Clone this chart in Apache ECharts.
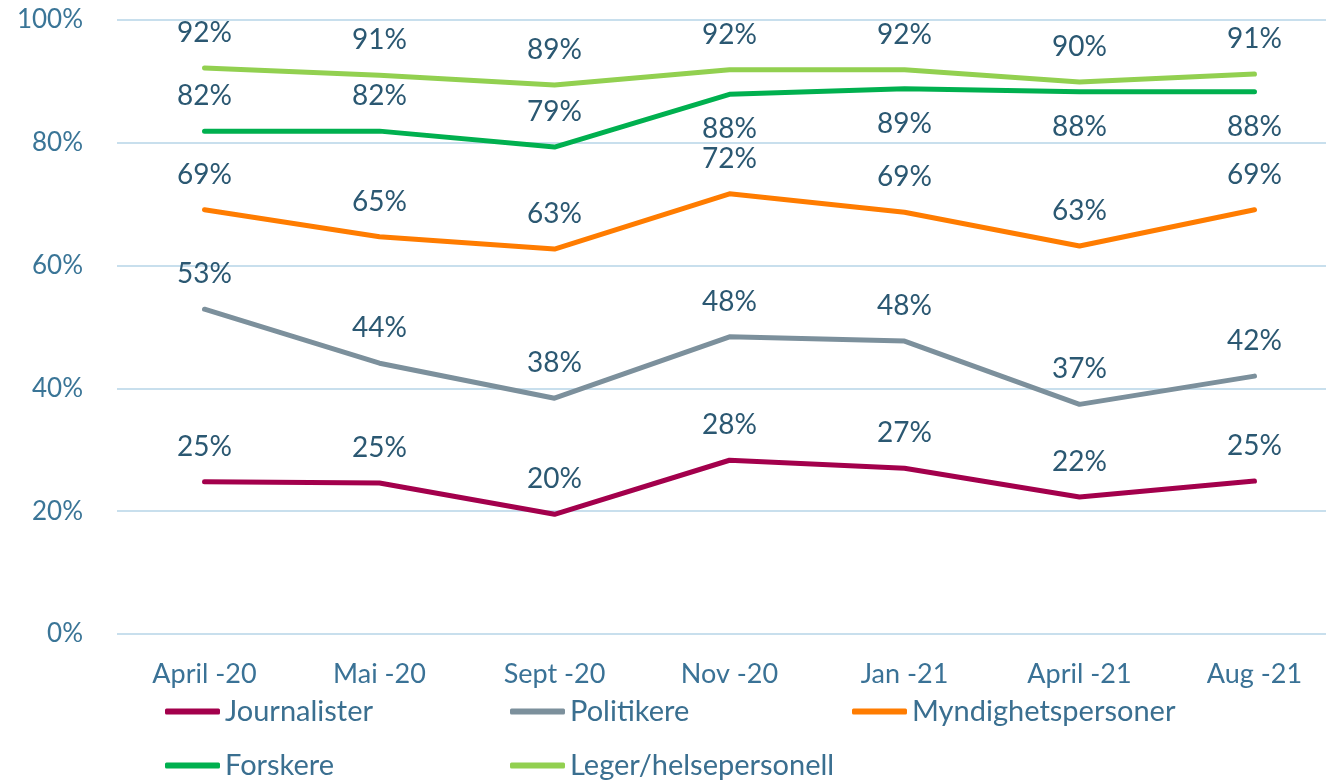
<!DOCTYPE html>
<html>
<head>
<meta charset="utf-8">
<script src="https://cdn.jsdelivr.net/npm/echarts@6/dist/echarts.min.js"></script>
<style>
	html, body { margin: 0; padding: 0; background: #fff; }
	#chart { width: 1326px; height: 784px; }
</style>
</head>
<body>
<div id="chart"></div>
<script>
var categories = ['April -20', 'Mai -20', 'Sept -20', 'Nov -20', 'Jan -21', 'April -21', 'Aug -21'];
var journalister = [24.8, 24.6, 19.5, 28.3, 27.0, 22.3, 24.9];
var politikere = [52.9, 44.1, 38.4, 48.4, 47.7, 37.4, 42.0];
var myndighetspersoner = [69.1, 64.7, 62.7, 71.7, 68.7, 63.2, 69.1];
var forskere = [81.9, 81.9, 79.3, 87.9, 88.8, 88.3, 88.3];
var leger = [92.2, 91.0, 89.4, 91.9, 91.9, 89.9, 91.2];
var yTicks = [0, 20, 40, 60, 80, 100];

var font = 'Lato';

function makeSeries(name, values, color, belowFrom) {
	var data = [];
	for (var i = 0; i < values.length; i++) {
		var below = belowFrom != null && i >= belowFrom;
		data.push({
			value: values[i],
			label: { position: below ? 'bottom' : 'top' }
		});
	}
	return {
		name: name,
		type: 'line',
		data: data,
		symbol: 'circle',
		symbolSize: 0,
		showSymbol: true,
		smooth: false,
		lineStyle: { width: 5, color: color, cap: 'round', join: 'round' },
		itemStyle: { color: color },
		label: {
			show: true,
			distance: 21,
			color: '#2b5872',
			fontFamily: font,
			fontSize: 28,
			formatter: function (p) { return Math.round(p.value) + '%'; }
		}
	};
}

function legendAt(name, left, top) {
	return {
		data: [name],
		left: left,
		top: top,
		icon: 'roundRect',
		itemWidth: 55,
		itemHeight: 6,
		padding: 0,
		textStyle: { color: '#3a6f90', fontFamily: font, fontSize: 29 }
	};
}

var chart = echarts.init(document.getElementById('chart'));
var option = {
	animation: false,
	grid: { left: 117, width: 1225, top: 20, bottom: 150, outerBoundsMode: 'none' },
	legend: [
		legendAt('Journalister', 165, 697),
		legendAt('Politikere', 510, 697),
		legendAt('Myndighetspersoner', 852, 697),
		legendAt('Forskere', 165, 751),
		legendAt('Leger/helsepersonell', 510, 751)
	],
	xAxis: {
		type: 'category',
		data: categories,
		boundaryGap: true,
		axisLine: { show: false },
		axisTick: { show: false },
		axisLabel: { color: '#3a7296', fontFamily: font, fontSize: 27, margin: 27 }
	},
	yAxis: {
		type: 'value',
		min: yTicks[0],
		max: yTicks[yTicks.length - 1],
		interval: 20,
		axisLine: { show: false },
		axisTick: { show: false },
		splitLine: { lineStyle: { color: '#c8dfed', width: 2 } },
		axisLabel: {
			color: '#3a7597',
			fontFamily: font,
			fontSize: 26,
			margin: 34,
			formatter: '{value}%'
		}
	},
	series: [
		makeSeries('Journalister', journalister, '#a3004c'),
		makeSeries('Politikere', politikere, '#7c909c'),
		makeSeries('Myndighetspersoner', myndighetspersoner, '#ff7c00'),
		makeSeries('Forskere', forskere, '#00b04f', 3),
		makeSeries('Leger/helsepersonell', leger, '#92d050')
	]
};
chart.setOption(option);
</script>
</body>
</html>
